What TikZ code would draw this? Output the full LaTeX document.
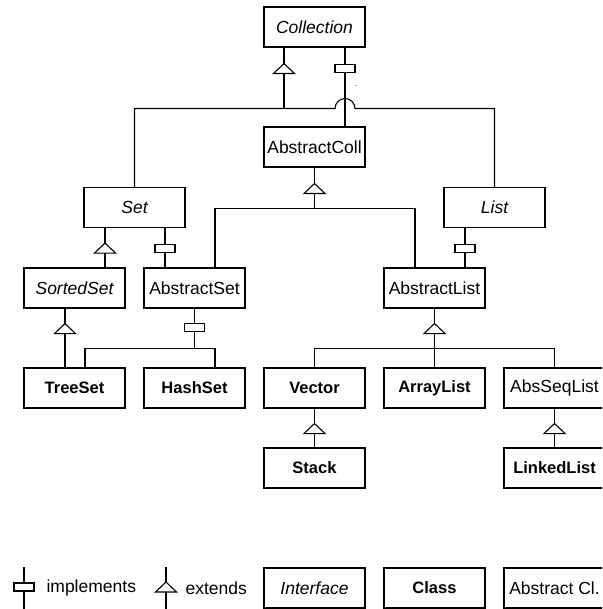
\documentclass[tikz,border=0pt]{standalone}
\usepackage{fontspec}
\setmainfont{Liberation Sans}

\begin{document}
\begin{tikzpicture}[x=1pt, y=-1pt, line width=1.1pt,
    box/.style={draw, minimum width=101pt, minimum height=40pt, inner sep=0pt, font=\fontsize{17.5}{21}\selectfont},
    iface/.style={box, font=\fontsize{17.5}{21}\selectfont\itshape},
    cls/.style={box, font=\fontsize{16.5}{21}\selectfont\bfseries},
    abscls/.style={box},
    legtext/.style={anchor=west, inner sep=0pt, font=\fontsize{17.5}{21}\selectfont},
    extends/.pic={\draw[fill=white] (0,0) -- (10.5,10) -- (-10.5,10) -- cycle;},
    implements/.pic={\draw[fill=white] (-10,0) rectangle (10,8);}]
			\useasboundingbox (0,0) rectangle (602,609);
			\clip (0,0) rectangle (602,609);

			% Draw the boxes
			\node[iface] (Collection) at (314.5,27) {Collection};
			\node[abscls] (AbstractColl) at (314.5,147) {AbstractColl};
			\node[iface] (Set) at (134.5,207.5) {Set};
			\node[iface] (List) at (494.5,207.5) {List};
			\node[iface] (SortedSet) at (74.5,288) {SortedSet};
			\node[abscls] (AbstractSet) at (194.5,288) {AbstractSet};
			\node[abscls] (AbstractList) at (434.5,288) {AbstractList};
			\node[cls] (TreeSet) at (74.5,388) {TreeSet};
			\node[cls] (HashSet) at (194.5,388) {HashSet};
			\node[cls] (Vector) at (314.5,388) {Vector};
			\node[cls] (ArrayList) at (434.5,388) {ArrayList};
			\node[abscls] (AbsSeqList) at (554.5,388) {AbsSeqList};
			\node[cls] (Stack) at (314.5,468) {Stack};
			\node[cls] (LinkedList) at (554.5,468) {LinkedList};

			% Draw the wires below Collection, with the bridge
			\coordinate (CollExt) at ([xshift=-30.5pt]Collection.south);
			\coordinate (CollImp) at ([xshift=30.5pt]Collection.south);
			\draw (Set.north) |- ([xshift=-10pt, yshift=-61pt]CollImp)
				arc[start angle=180, end angle=0, radius=10pt] -| (List.north);
			\draw (CollExt) -- ++(0,61);
			\draw (CollImp) -- ([xshift=30.5pt]AbstractColl.north);
			\pic at ([yshift=-16pt]CollExt) {extends};
			\pic at ([yshift=-17pt]CollImp) {implements};
			\node[inner sep=0pt, font=\fontsize{6}{6}\selectfont] (Dash) at (356,87) {-};

			% Draw the wires below AbstractColl
			\draw (AbstractColl.south) -- ++(0,41) coordinate (CollBus);
			\draw ([xshift=20.5pt]AbstractSet.north) |- (CollBus) -| ([xshift=-19.5pt]AbstractList.north);
			\pic at ([yshift=-16pt]AbstractColl.south) {extends};

			% Draw the wires below Set and List
			\draw ([xshift=-29.5pt]Set.south) -- ([xshift=30.5pt]SortedSet.north);
			\draw ([xshift=30.5pt]Set.south) -- ([xshift=-29.5pt]AbstractSet.north);
			\draw ([xshift=-29.5pt]List.south) -- ([xshift=30.5pt]AbstractList.north);
			\pic at ([xshift=-29.5pt, yshift=-15pt]Set.south) {extends};
			\pic at ([xshift=30.5pt, yshift=-16pt]Set.south) {implements};
			\pic at ([xshift=-29.5pt, yshift=-16pt]List.south) {implements};

			% Draw the wires below SortedSet and AbstractSet
			\draw ([xshift=-9.5pt]SortedSet.south) -- ([xshift=-9.5pt]TreeSet.north);
			\draw (AbstractSet.south) -- ++(0,40) coordinate (SetBus);
			\draw ([xshift=10.5pt]TreeSet.north) |- (SetBus) -| ([xshift=20.5pt]HashSet.north);
			\pic at ([xshift=-9.5pt, yshift=-15pt]SortedSet.south) {extends};
			\pic at ([yshift=-15pt]AbstractSet.south) {implements};

			% Draw the wires below AbstractList
			\draw (AbstractList.south) -- (ArrayList.north);
			\draw (Vector.north) |- ([yshift=-40pt]AbstractList.south) -| (AbsSeqList.north);
			\pic at ([yshift=-15pt]AbstractList.south) {extends};

			\draw (Vector.south) -- (Stack.north);
			\draw (AbsSeqList.south) -- (LinkedList.north);
			\pic at ([yshift=-15pt]Vector.south) {extends};
			\pic at ([yshift=-15pt]AbsSeqList.south) {extends};

			% Draw the legend
			\coordinate (ImplTop) at (24,567);
			\coordinate (ExtTop) at (166,567);
			\draw (ImplTop) -- ++(0,43);
			\draw (ExtTop) -- ++(0,43);
			\pic at ([yshift=-16pt]ImplTop) {implements};
			\pic at ([yshift=-15pt]ExtTop) {extends};
			\node[legtext] (ImplText) at (46,588) {implements};
			\node[legtext] (ExtText) at (185,588) {extends};
			\node[iface] (LegIface) at (314.5,588) {Interface};
			\node[cls] (LegClass) at (434.5,588) {Class};
			\node[abscls] (LegAbs) at (554.5,588) {Abstract Cl.};

		\end{tikzpicture}
\end{document}
